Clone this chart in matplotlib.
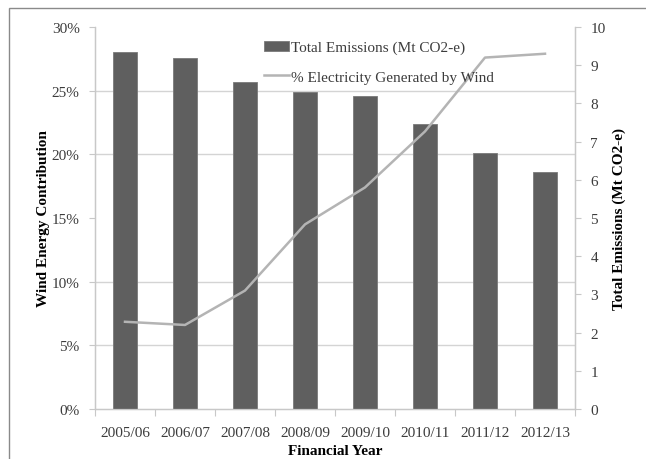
import numpy as np
import matplotlib
matplotlib.use("Agg")
import matplotlib.pyplot as plt
from matplotlib.ticker import MultipleLocator, FuncFormatter
from matplotlib.patches import Rectangle

years = ["2005/06", "2006/07", "2007/08", "2008/09",
         "2009/10", "2010/11", "2011/12", "2012/13"]
emissions = [9.35, 9.2, 8.55, 8.3, 8.2, 7.45, 6.7, 6.2]   # Mt CO2-e
wind_pct = [6.85, 6.6, 9.3, 14.5, 17.4, 21.8, 27.6, 27.9]  # % of electricity

plt.rcParams['font.family'] = ['Liberation Serif', 'DejaVu Serif']
plt.rcParams['font.size'] = 11

bar_col = '#5f5f5f'
line_col = '#b4b4b4'
axis_col = '#c8c8c8'
text_col = '#3c3c3c'

fig = plt.figure(figsize=(6.46, 4.6), dpi=100)
ax = fig.add_axes([95 / 646, 50 / 460, 480 / 646, 382 / 460])
ax2 = ax.twinx()
ax.set_zorder(ax2.get_zorder() + 1)
ax.patch.set_visible(False)

x = np.arange(len(years))

# emissions bars on the right axis, behind the wind line
ax2.bar(x, emissions, width=0.4, color=bar_col, edgecolor='#7a7a7a',
        linewidth=0.6, label='Total Emissions (Mt CO2-e)', zorder=3)
ax2.set_ylim(0, 10)
ax2.yaxis.set_major_locator(MultipleLocator(1))
ax2.yaxis.set_minor_locator(MultipleLocator(10 / 6))
ax2.grid(which='minor', axis='y', color='#d4d4d4', linewidth=1.0, zorder=0)
ax2.set_axisbelow(True)
ax2.tick_params(axis='y', which='major', length=4, width=0.8, color=axis_col,
                pad=7, labelcolor=text_col)
ax2.tick_params(axis='y', which='minor', length=0)
ax2.set_ylabel('Total Emissions (Mt CO2-e)', fontweight='bold', labelpad=5)

ax.plot(x, wind_pct, color=line_col, linewidth=1.8,
        label='% Electricity Generated by Wind', zorder=4)
ax.set_ylim(0, 30)
ax.set_xlim(-0.5, len(years) - 0.5)
ax.yaxis.set_major_locator(MultipleLocator(5))
ax.yaxis.set_major_formatter(FuncFormatter(lambda v, p: f"{v:.0f}%"))
ax.tick_params(axis='y', length=4, width=0.8, color=axis_col, pad=7,
               labelcolor=text_col)
ax.set_xticks(x)
ax.set_xticklabels(years)
ax.set_xticks(np.arange(-0.5, len(years)), minor=True)
ax.tick_params(axis='x', which='major', length=0, pad=12, labelcolor=text_col)
ax.tick_params(axis='x', which='minor', length=5, width=0.8, color=axis_col)
ax.set_xlabel('Financial Year', fontweight='bold', labelpad=4)
ax.set_ylabel('Wind Energy Contribution', fontweight='bold', labelpad=1)

for a in (ax, ax2):
    a.spines['top'].set_visible(False)
    for s in ('left', 'right', 'bottom'):
        a.spines[s].set_color(axis_col)
        a.spines[s].set_linewidth(0.9)

h1, l1 = ax2.get_legend_handles_labels()
h2, l2 = ax.get_legend_handles_labels()
ax.legend(h1 + h2, l1 + l2, loc='upper left', bbox_to_anchor=(0.34, 0.98),
          frameon=False, borderaxespad=0, handlelength=1.6, handleheight=0.6,
          handletextpad=0.15, labelspacing=1.05, labelcolor=text_col)

# outer frame round the chart
fig.patches.append(Rectangle((9 / 646, -0.1), 1.2, 1 - 9 / 460 + 0.1,
                             transform=fig.transFigure, fill=False,
                             edgecolor='#8a8a8a', linewidth=1.0))

fig.savefig('out.png', dpi=100)
